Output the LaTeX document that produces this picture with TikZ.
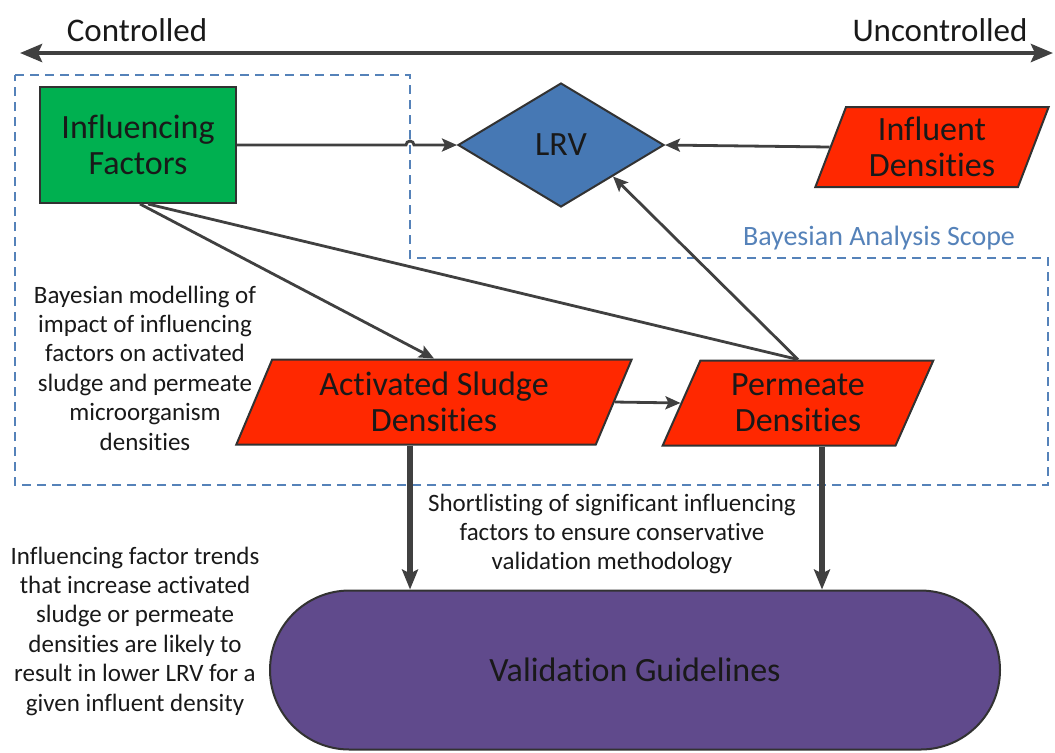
\documentclass[tikz,border=0pt]{standalone}
\usepackage{fontspec}
\setmainfont{Carlito}[Ligatures=NoCommon]
\usetikzlibrary{shapes.geometric,shapes.misc,arrows.meta,calc}
\definecolor{fgreen}{RGB}{0,176,80}
\definecolor{dred}{RGB}{255,40,0}
\definecolor{dblue}{RGB}{70,120,180}
\definecolor{vpurple}{RGB}{96,74,140}
\definecolor{edge}{RGB}{50,50,50}
\definecolor{ink}{RGB}{25,25,25}
\definecolor{linegray}{RGB}{64,64,64}
\definecolor{scopeblue}{RGB}{85,130,185}
\begin{document}
\begin{tikzpicture}[x=0.5pt,y=-0.5pt,
  box/.style={draw=edge, line width=1pt, text=ink, align=center, inner sep=0pt,
    font=\fontsize{17}{18}\selectfont},
  factorbox/.style={box, rectangle, fill=fgreen, minimum width=98pt, minimum height=58pt},
  lrvbox/.style={box, diamond, fill=dblue, minimum width=103pt, minimum height=62pt},
  densbox/.style={box, trapezium, fill=dred, trapezium stretches=true},
  guidebox/.style={box, rounded rectangle, fill=vpurple, minimum width=365pt, minimum height=79.5pt},
  note/.style={align=center, text=ink, font=\fontsize{12.5}{14.7}\selectfont},
  axislabel/.style={text=ink, font=\fontsize{16.5}{18}\selectfont},
  link/.style={draw=linegray, line width=1.4pt},
  arrowlink/.style={link, -{Stealth[length=7.5pt,width=6.5pt,inset=1.5pt]}},
  heavyarrow/.style={draw=linegray, line width=3pt, -{Stealth[length=10pt,width=8pt,inset=2pt]}},
  scopeline/.style={draw=scopeblue, line width=1.2pt, dash pattern=on 4.5pt off 3pt}
]
\useasboundingbox (0,0) rectangle (1055,752);

% controlled / uncontrolled axis
\coordinate (axl) at (20,53);
\coordinate (axr) at (1053,53);
\draw[draw=linegray, line width=2.2pt,
  {Stealth[length=11pt,width=9pt,inset=2pt]}-{Stealth[length=11pt,width=9pt,inset=2pt]}] (axl) -- (axr);
\node[axislabel] (ctl) at (137,30) {Controlled};
\node[axislabel] (unctl) at (940,30) {Uncontrolled};

% scope of the Bayesian analysis
\draw[scopeline] (15,75) -- (410,75) -- (410,258) -- (1048,258) -- (1048,485) -- (15,485) -- cycle;
\node[text=scopeblue, font=\fontsize{14}{16}\selectfont] (scope) at (879,238) {Bayesian Analysis Scope};

% main blocks
\node[factorbox] (fac) at (138,145) {Influencing\\Factors};
\node[lrvbox] (lrv) at (561,145) {LRV};
\node[densbox, trapezium left angle=69.4, trapezium right angle=110.6,
  minimum width=117.5pt, minimum height=40pt] (inf) at (932,147) {Influent\\Densities};
\node[densbox, trapezium left angle=67, trapezium right angle=113,
  minimum width=198pt, minimum height=42.5pt] (act) at (434,402) {Activated Sludge\\Densities};
\node[densbox, trapezium left angle=66, trapezium right angle=114,
  minimum width=136.5pt, minimum height=42.5pt] (perm) at (798,403) {Permeate\\Densities};
\node[guidebox] (val) at (635,670) {Validation Guidelines};

% connectors
\draw[arrowlink] (fac.east) -- (406,145) arc[start angle=180, end angle=360, radius=4] -- (lrv.west);
\draw[arrowlink] (inf.west) -- (lrv.east);
\draw[arrowlink] ([xshift=1pt]fac.south) -- (act.north);
\draw[link] ([xshift=5pt]fac.south) -- (perm.north);
\draw[arrowlink] (perm.north) -- (lrv.south east);
\draw[arrowlink] (act.east) -- (perm.west);
\draw[heavyarrow] ([xshift=-12pt]act.south) -- ([xshift=-12pt]act.south |- val.north);
\draw[heavyarrow] ([xshift=12pt]perm.south) -- ([xshift=12pt]perm.south |- val.north);

% annotations
\node[note] (model) at (145,368) {Bayesian modelling of\\impact of influencing\\factors on activated\\sludge and permeate\\microorganism\\densities};
\node[note] (short) at (612,534) {Shortlisting of significant influencing\\factors to ensure conservative\\validation methodology};
\node[note] (trend) at (135,631) {Influencing factor trends\\that increase activated\\sludge or permeate\\densities are likely to\\result in lower LRV for a\\given influent density};
\end{tikzpicture}
\end{document}
